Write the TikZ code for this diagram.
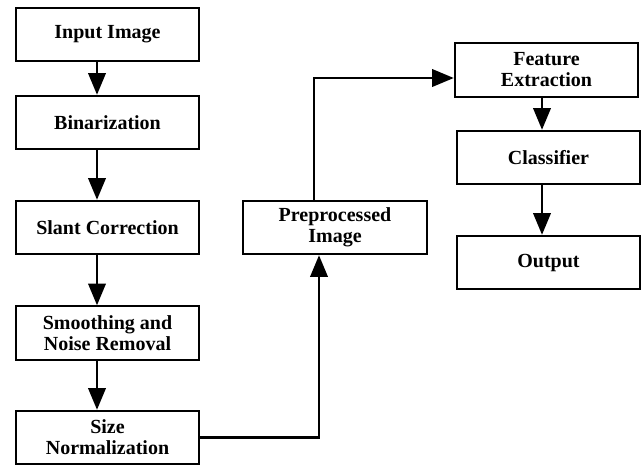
\documentclass[tikz,border=0pt]{standalone}
\usepackage{fontspec}
\setmainfont{Liberation Serif}
\usetikzlibrary{arrows.meta}

\tikzset{
  stage/.style={draw, line width=1.3pt, minimum width=110pt, minimum height=32pt,
    align=center, inner sep=2pt, font=\bfseries\fontsize{12}{12.6}\selectfont},
  flow/.style={line width=1.3pt, -{Triangle[length=13pt,width=10.5pt]}}
}

\begin{document}
\begin{tikzpicture}[x=0.6pt,y=-0.6pt]
	\useasboundingbox (0,0) rectangle (642,466);

	% left column
	\node[stage] (input)  at (107.5,34.5)  {Input Image};
	\node[stage] (binar)  at (107.5,122.5) {Binarization};
	\node[stage] (slant)  at (107.5,227.5) {Slant Correction};
	\node[stage] (smooth) at (107.5,333)   {Smoothing and\\Noise Removal};
	\node[stage] (size)   at (107.5,437.5) {Size\\Normalization};

	% middle and right
	\node[stage] (prep) at (335,227.5)   {Preprocessed\\Image};
	\node[stage] (feat) at (546.5,70)    {Feature\\Extraction};
	\node[stage] (clas) at (548.5,157.5) {Classifier};
	\node[stage] (out)  at (548.5,262.5) {Output};

	\coordinate (lcol) at (97,0);
	\coordinate (rcol) at (542,0);
	\coordinate (up)   at (319,0);
	\coordinate (over) at (314,78);

	\draw[flow] (input.south -| lcol)  -- (binar.north -| lcol);
	\draw[flow] (binar.south -| lcol)  -- (slant.north -| lcol);
	\draw[flow] (slant.south -| lcol)  -- (smooth.north -| lcol);
	\draw[flow] (smooth.south -| lcol) -- (size.north -| lcol);

	\draw[flow] (size.east) -| (up |- prep.south);
	\draw[flow] (prep.north -| over) |- (feat.west |- over);

	\draw[flow] (feat.south -| rcol) -- (clas.north -| rcol);
	\draw[flow] (clas.south -| rcol) -- (out.north -| rcol);
\end{tikzpicture}
\end{document}
